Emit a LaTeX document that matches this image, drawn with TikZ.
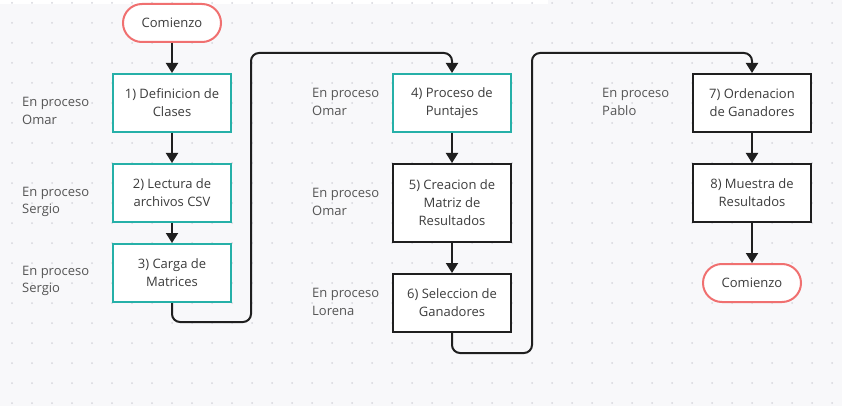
\documentclass[tikz,border=0pt]{standalone}
\usepackage{fontspec}
\setmainfont{Open Sans}
\usetikzlibrary{arrows.meta}
\definecolor{fondo}{RGB}{248,248,250}
\definecolor{punto}{RGB}{214,214,220}
\definecolor{verde}{RGB}{38,176,168}
\definecolor{salmon}{RGB}{240,112,112}
\definecolor{textogris}{RGB}{85,85,85}
\definecolor{textobox}{RGB}{60,60,60}
\tikzset{
  paso/.style={rectangle, fill=white, line width=2pt, minimum width=118pt, minimum height=58pt,
    align=center, inner sep=2pt, text=textobox, font=\fontsize{13}{18}\selectfont},
  pasoverde/.style={paso, draw=verde},
  pasonegro/.style={paso, draw=black!88},
  inicio/.style={rectangle, rounded corners=19pt, fill=white, draw=salmon, line width=2pt,
    minimum width=98pt, minimum height=38pt, text=textobox, font=\fontsize{13}{18}\selectfont},
  nota/.style={anchor=west, align=left, inner sep=0pt, text=textogris, font=\fontsize{13}{17.5}\selectfont},
  flecha/.style={line width=2pt, draw=black!88, rounded corners=8pt, -{Triangle[width=12pt,length=10pt]}}
}
\begin{document}
\begin{tikzpicture}[x=1pt,y=-1pt]
\useasboundingbox (0,0) rectangle (842,406);
\fill[fondo] (0,0) rectangle (842,406);
\fill[white] (0,0) rectangle (548,4);
\foreach \x in {12,32,...,832}
  \foreach \y in {3,23,...,403}
    \fill[punto] (\x,\y) circle (1);

\node[inicio] (ini) at (172,23) {Comienzo};
\node[pasoverde] (p1) at (172,103) {1) Definicion de\\Clases};
\node[pasoverde] (p2) at (172,193) {2) Lectura de\\archivos CSV};
\node[pasoverde] (p3) at (172,273) {3) Carga de\\Matrices};
\node[pasoverde] (p4) at (452,103) {4) Proceso de\\Puntajes};
\node[pasonegro, minimum height=78pt] (p5) at (452,203) {5) Creacion de\\Matriz de\\Resultados};
\node[pasonegro] (p6) at (452,303) {6) Seleccion de\\Ganadores};
\node[pasonegro] (p7) at (752,103) {7) Ordenacion\\de Ganadores};
\node[pasonegro] (p8) at (752,193) {8) Muestra de\\Resultados};
\node[inicio] (fin) at (752,283) {Comienzo};

\node[nota] (n1) at (22,111) {En proceso\\Omar};
\node[nota] (n2) at (22,202) {En proceso\\Sergio};
\node[nota] (n3) at (22,281) {En proceso\\Sergio};
\node[nota] (n4) at (312,102) {En proceso\\Omar};
\node[nota] (n5) at (312,202) {En proceso\\Omar};
\node[nota] (n6) at (312,302) {En proceso\\Lorena};
\node[nota] (n7) at (602,102) {En proceso\\Pablo};

\coordinate (a1) at (251,322);
\coordinate (a2) at (251,53);
\coordinate (b1) at (532,353);
\coordinate (b2) at (532,53);

\draw[flecha] (ini) -- (p1);
\draw[flecha] (p1) -- (p2);
\draw[flecha] (p2) -- (p3);
\draw[flecha] (p3.south) |- (a1) -- (a2) -| (p4.north);
\draw[flecha] (p4) -- (p5);
\draw[flecha] (p5) -- (p6);
\draw[flecha] (p6.south) |- (b1) -- (b2) -| (p7.north);
\draw[flecha] (p7) -- (p8);
\draw[flecha] (p8) -- (fin);
\end{tikzpicture}
\end{document}
